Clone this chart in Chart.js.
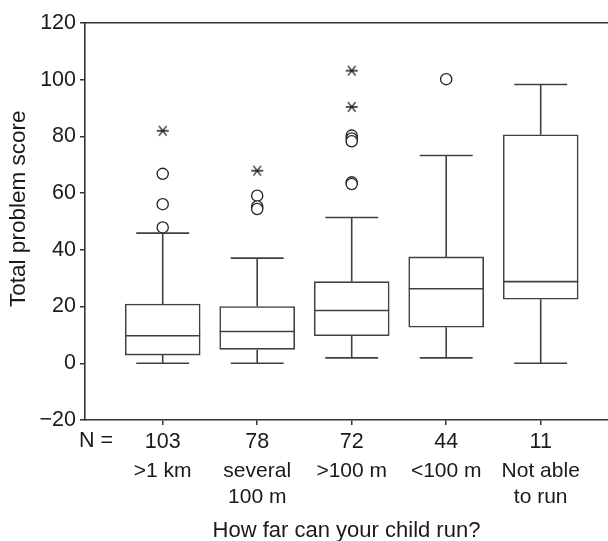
<!DOCTYPE html>
<html>
<head>
<meta charset="utf-8">
<script src="https://cdn.jsdelivr.net/npm/chart.js@4.4.0/dist/chart.umd.min.js"></script>
<style>
  html, body { margin: 0; padding: 0; background: #fff; }
  #wrap { width: 608px; height: 541px; }
</style>
</head>
<body>
<div id="wrap"><canvas id="c" width="608" height="541"></canvas></div>
<script>
// ---- data ----
const categories = ['>1 km', ['several', '100 m'], '>100 m', '<100 m', ['Not able', 'to run']];
const nCounts = [103, 78, 72, 44, 11];
const positions = [1, 2, 3, 4, 5];
const whiskerLow = [0, 0, 1.9, 1.9, 0];
const q1 = [2.9, 4.9, 9.7, 12.7, 22.6];
const median = [9.7, 11.2, 18.6, 26.3, 28.8];
const q3 = [20.9, 20.0, 28.8, 37.5, 80.6];
const whiskerHigh = [45.9, 37.1, 51.4, 73.3, 98.3];
const outlierCircles = [[66.8, 56.1, 47.9], [59.1, 55.3, 54.4], [80.3, 79.3, 78.3, 63.8, 63.2], [100.2], []];
const extremeStars = [[82], [67.9], [103.2, 90.4], [], []];
const yMin = -20, yMax = 120, yStep = 20;
const xTitle = 'How far can your child run?';
const yTitle = 'Total problem score';
const nLabel = 'N =';

// ---- styling ----
const FONT = "'Liberation Sans', Arial, Helvetica, sans-serif";
const LINE = '#404040';
const TEXT = '#1a1a1a';
const BOX_HALF = 0.397;
const CAP_HALF = 0.28;

// whiskers, caps and medians as line segments (gaps between them)
const segs = [];
positions.forEach((x, i) => {
  segs.push({x: x - BOX_HALF, y: median[i]}, {x: x + BOX_HALF, y: median[i]}, {x: x, y: null});
  segs.push({x: x, y: q3[i]}, {x: x, y: whiskerHigh[i]}, {x: x, y: null});
  segs.push({x: x - CAP_HALF, y: whiskerHigh[i]}, {x: x + CAP_HALF, y: whiskerHigh[i]}, {x: x, y: null});
  segs.push({x: x, y: q1[i]}, {x: x, y: whiskerLow[i]}, {x: x, y: null});
  segs.push({x: x - CAP_HALF, y: whiskerLow[i]}, {x: x + CAP_HALF, y: whiskerLow[i]}, {x: x, y: null});
});
const circlePts = [];
outlierCircles.forEach((arr, i) => arr.forEach(v => circlePts.push({x: positions[i], y: v})));
const starPts = [];
extremeStars.forEach((arr, i) => arr.forEach(v => starPts.push({x: positions[i], y: v})));

// asterisk point style
const star = document.createElement('canvas');
star.width = 14; star.height = 14;
(function () {
  const g = star.getContext('2d');
  g.strokeStyle = '#222'; g.lineWidth = 1.3;
  g.beginPath();
  g.moveTo(1, 7); g.lineTo(13, 7);
  g.moveTo(3.2, 2.2); g.lineTo(10.8, 11.8);
  g.moveTo(10.8, 2.2); g.lineTo(3.2, 11.8);
  g.stroke();
})();

const PX_LEFT = 85, PX_FIRST = 162.7, PX_STEP = 94.5, PX_RIGHT = 608;
const xMin = 1 - (PX_FIRST - PX_LEFT) / PX_STEP;
const xMax = xMin + (PX_RIGHT - PX_LEFT) / PX_STEP;

const textPlugin = {
  id: 'extraText',
  afterDraw(chart) {
    const s = chart.scales.x;
    const ys = chart.scales.y;
    const ctx = chart.ctx;
    ctx.save();
    ctx.fillStyle = TEXT;
    // "N =" in front of the counts row
    ctx.font = '21.5px ' + FONT;
    ctx.textAlign = 'right';
    ctx.textBaseline = 'middle';
    ctx.fillText(nLabel, s.getPixelForValue(xMin) + 28, (s.top + s.bottom) / 2 + 5);
    // y axis title
    ctx.font = '22.5px ' + FONT;
    ctx.textAlign = 'center';
    ctx.textBaseline = 'middle';
    ctx.translate(19, ys.getPixelForValue(54.5));
    ctx.rotate(-Math.PI / 2);
    ctx.fillText(yTitle, 0, 0);
    ctx.restore();
  }
};

Chart.defaults.font.family = FONT;
Chart.defaults.color = TEXT;

new Chart(document.getElementById('c'), {
  type: 'scatter',
  data: {
    datasets: [
      { type: 'line', data: segs, order: 0, borderColor: LINE, borderWidth: 1.6, pointRadius: 0, spanGaps: false, tension: 0, fill: false, xAxisID: 'x', yAxisID: 'y' },
      { type: 'scatter', data: circlePts, order: 0, pointStyle: 'circle', pointRadius: 5.6, borderWidth: 1.3, borderColor: '#222', backgroundColor: '#fff', xAxisID: 'x', yAxisID: 'y' },
      { type: 'scatter', data: starPts, order: 0, pointStyle: star, pointRadius: 7, xAxisID: 'x', yAxisID: 'y' },
      { type: 'bar', order: 1, data: positions.map((x, i) => ({x: x, y: [q1[i], q3[i]]})), barThickness: 75, borderSkipped: false, borderWidth: 1.6, borderColor: LINE, backgroundColor: '#fff', xAxisID: 'x', yAxisID: 'y' }
    ]
  },
  options: {
    responsive: false,
    animation: false,
    events: [],
    layout: { autoPadding: false, padding: { top: 23, right: 0, bottom: 0, left: 0 } },
    plugins: { legend: { display: false }, tooltip: { enabled: false }, title: { display: false } },
    scales: {
      y: {
        type: 'linear', position: 'left', min: yMin, max: yMax,
        ticks: { stepSize: yStep, color: TEXT, font: { size: 21.5 }, padding: 4, callback: v => (v < 0 ? '\u2212' + Math.abs(v) : String(v)) },
        grid: { drawOnChartArea: false, tickLength: 5, color: '#333', lineWidth: 1.5 },
        border: { display: true, color: '#333', width: 1.6 },
        afterFit: s => { s.width = PX_LEFT; }
      },
      xTop: {
        type: 'linear', position: 'top', min: xMin, max: xMax,
        ticks: { display: false },
        grid: { drawOnChartArea: false, tickLength: 0, display: true, color: '#333', offset: false },
        border: { display: true, color: '#333', width: 1.6 },
        afterFit: s => { s.height = 0; }
      },
      x: {
        type: 'linear', position: 'bottom', min: xMin, max: xMax, weight: 0, offset: false,
        afterBuildTicks: s => { s.ticks = positions.map(v => ({ value: v })); },
        ticks: { color: TEXT, font: { size: 21.5 }, padding: 4, maxRotation: 0, autoSkip: false, callback: (v, i) => String(nCounts[i]) },
        grid: { drawOnChartArea: false, tickLength: 5, color: '#333', lineWidth: 1.5, offset: false },
        border: { display: true, color: '#333', width: 1.6 },
        afterFit: s => { s.height = 32; }
      },
      x2: {
        type: 'linear', position: 'bottom', min: xMin, max: xMax, weight: 1, offset: false,
        afterBuildTicks: s => { s.ticks = positions.map(v => ({ value: v })); },
        ticks: { color: TEXT, font: { size: 21, lineHeight: 1.2 }, padding: 7, maxRotation: 0, autoSkip: false, callback: (v, i) => categories[i] },
        grid: { display: false, drawTicks: false, offset: false },
        border: { display: false },
        title: { display: true, text: xTitle, color: TEXT, font: { size: 22, lineHeight: 0.8 }, padding: { top: 0, bottom: 1 } },
        afterFit: s => { s.height = 541 - 420 - 32; }
      }
    }
  },
  plugins: [textPlugin]
});
</script>
</body>
</html>
